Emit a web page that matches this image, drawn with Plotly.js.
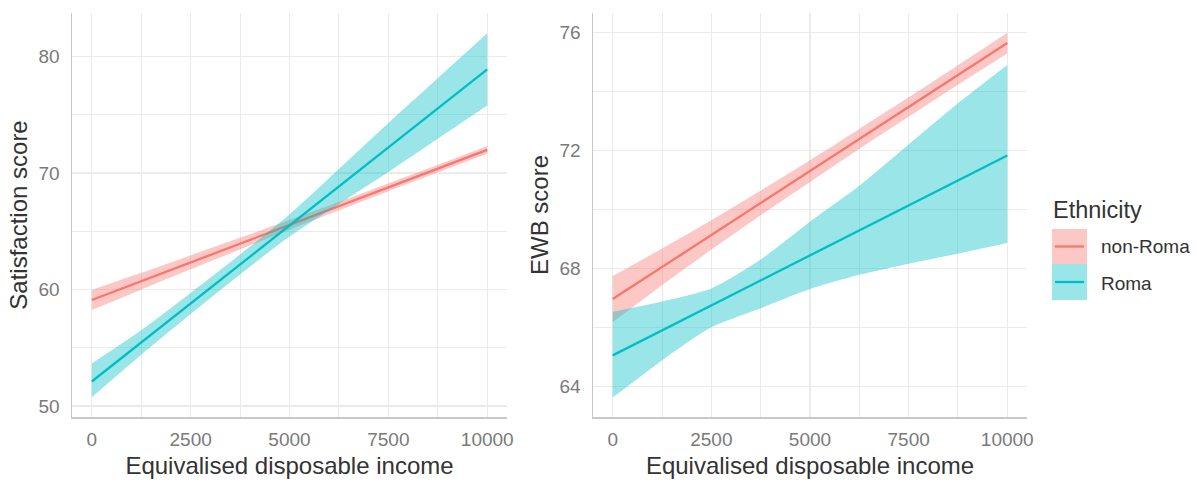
<!DOCTYPE html>
<html>
<head>
<meta charset="utf-8">
<script src="https://cdn.plot.ly/plotly-3.0.1.min.js"></script>
<style>html,body{margin:0;padding:0;background:#fff}#chart{width:1197px;height:482px}</style>
</head>
<body>
<div id="chart"></div>
<script>
// ---- data ----
const income = [0, 1250, 2500, 3750, 5000, 6250, 7500, 8750, 10000];

const groups = ["non-Roma", "Roma"];

// Panel 1: Satisfaction score
const satNonRomaFit = [59.10, 60.71, 62.33, 63.94, 65.55, 67.16, 68.78, 70.39, 72.00];
const satNonRomaHi  = [59.96, 61.43, 62.93, 64.44, 65.97, 67.52, 69.11, 70.71, 72.33];
const satNonRomaLo  = [58.24, 59.99, 61.73, 63.44, 65.13, 66.80, 68.45, 70.07, 71.67];
const satRomaFit    = [52.10, 55.45, 58.80, 62.15, 65.50, 68.85, 72.20, 75.55, 78.90];
const satRomaHi     = [53.65, 56.50, 59.70, 63.00, 66.45, 70.35, 74.30, 78.15, 82.00];
const satRomaLo     = [50.75, 54.40, 57.90, 61.30, 64.55, 67.35, 70.10, 72.95, 75.80];

// Panel 2: EWB score
const ewbNonRomaFit = [66.96, 68.05, 69.13, 70.22, 71.30, 72.39, 73.47, 74.56, 75.64];
const ewbNonRomaHi  = [67.74, 68.67, 69.63, 70.64, 71.67, 72.73, 73.80, 74.89, 75.99];
const ewbNonRomaLo  = [66.18, 67.43, 68.63, 69.80, 70.93, 72.05, 73.14, 74.23, 75.29];
const ewbRomaFit    = [65.05, 65.90, 66.75, 67.59, 68.44, 69.29, 70.13, 70.98, 71.83];
const ewbRomaHi     = [66.53, 66.88, 67.32, 68.30, 69.58, 70.80, 72.20, 73.60, 74.90];
const ewbRomaLo     = [63.62, 64.88, 66.00, 66.65, 67.30, 67.78, 68.16, 68.50, 68.86];

const xTicks = [0, 2500, 5000, 7500, 10000];
const satTicks = [50, 60, 70, 80];
const ewbTicks = [64, 68, 72, 76];

// ---- styling ----
const lineCol = {"non-Roma": "#F8766D", "Roma": "#00BFC4"};
const fillCol = {"non-Roma": "rgba(248,118,109,0.4)", "Roma": "rgba(0,191,196,0.4)"};
const FONT = "Liberation Sans, Arial, sans-serif";
const W = 1197, H = 482;

function band(xa, ya, name, lo, hi, fit) {
  return [
    {x: income, y: lo, xaxis: xa, yaxis: ya, type: "scatter", mode: "lines",
     line: {width: 0, color: fillCol[name], shape: "spline", smoothing: 0.7}, showlegend: false, hoverinfo: "skip"},
    {x: income, y: hi, xaxis: xa, yaxis: ya, type: "scatter", mode: "lines",
     fill: "tonexty", fillcolor: fillCol[name],
     line: {width: 0, color: fillCol[name], shape: "spline", smoothing: 0.7}, showlegend: false, hoverinfo: "skip"},
    {x: income, y: fit, xaxis: xa, yaxis: ya, type: "scatter", mode: "lines", name: name,
     line: {width: 2.3, color: lineCol[name]}, showlegend: false}
  ];
}

const traces = [].concat(
  band("x", "y", groups[0], satNonRomaLo, satNonRomaHi, satNonRomaFit),
  band("x", "y", groups[1], satRomaLo, satRomaHi, satRomaFit),
  band("x2", "y2", groups[0], ewbNonRomaLo, ewbNonRomaHi, ewbNonRomaFit),
  band("x2", "y2", groups[1], ewbRomaLo, ewbRomaHi, ewbRomaFit)
);

const gridCol = "#EBEBEB";
const tickFont = {family: FONT, size: 19, color: "#7a7a7a"};
const titleFont = {family: FONT, size: 24, color: "#333333"};

function xAxis(domain, anchor) {
  return {
    domain: domain, anchor: anchor, range: [-500, 10500],
    tickvals: xTicks, ticktext: xTicks.map(String),
    showgrid: true, gridcolor: gridCol, gridwidth: 1.3,
    minor: {dtick: 1250, tick0: 1250, showgrid: true, gridcolor: gridCol, gridwidth: 1, ticks: ""},
    showline: true, linecolor: "#C8C8C8", linewidth: 1.5,
    ticks: "outside", ticklen: 5, tickcolor: "rgba(0,0,0,0)",
    tickfont: tickFont, zeroline: false,
    title: {text: "Equivalised disposable income", font: titleFont, standoff: 8}
  };
}
function yAxis(domain, anchor, range, ticks, minorTick0, minorD, title) {
  return {
    domain: domain, anchor: anchor, range: range,
    tickvals: ticks, ticktext: ticks.map(String),
    showgrid: true, gridcolor: gridCol, gridwidth: 1.3,
    minor: {tick0: minorTick0, dtick: minorD, showgrid: true, gridcolor: gridCol, gridwidth: 1, ticks: ""},
    showline: true, linecolor: "#C8C8C8", linewidth: 1.5,
    ticks: "outside", ticklen: 7, tickcolor: "rgba(0,0,0,0)",
    tickfont: tickFont, zeroline: false,
    title: {text: title, font: titleFont, standoff: 4}
  };
}

const yDom = [1 - 417 / H, 1 - 13 / H];
const layout = {
  width: W, height: H,
  margin: {l: 0, r: 0, t: 0, b: 0},
  paper_bgcolor: "#ffffff", plot_bgcolor: "#ffffff",
  showlegend: false,
  font: {family: FONT},
  xaxis: xAxis([72 / W, 507 / W], "y"),
  yaxis: yAxis(yDom, "x", [49.05, 83.75], satTicks, 45, 10, "Satisfaction score"),
  xaxis2: xAxis([593 / W, 1027 / W], "y2"),
  yaxis2: yAxis(yDom, "x2", [62.96, 76.66], ewbTicks, 62, 4, "EWB score"),
  shapes: [
    {type: "rect", xref: "paper", yref: "paper", x0: 1052 / W, x1: 1087 / W,
     y0: 1 - 264 / H, y1: 1 - 229 / H, fillcolor: fillCol["non-Roma"], line: {width: 0}},
    {type: "line", xref: "paper", yref: "paper", x0: 1055 / W, x1: 1084 / W,
     y0: 1 - 246.5 / H, y1: 1 - 246.5 / H, line: {color: lineCol["non-Roma"], width: 2.3}},
    {type: "rect", xref: "paper", yref: "paper", x0: 1052 / W, x1: 1087 / W,
     y0: 1 - 300 / H, y1: 1 - 264 / H, fillcolor: fillCol["Roma"], line: {width: 0}},
    {type: "line", xref: "paper", yref: "paper", x0: 1055 / W, x1: 1084 / W,
     y0: 1 - 282 / H, y1: 1 - 282 / H, line: {color: lineCol["Roma"], width: 2.3}}
  ],
  annotations: [
    {text: "Ethnicity", xref: "paper", yref: "paper", x: 1051 / W, y: 1 - 210 / H,
     xanchor: "left", yanchor: "middle", showarrow: false, font: {family: FONT, size: 23.5, color: "#333333"}},
    {text: groups[0], xref: "paper", yref: "paper", x: 1099 / W, y: 1 - 247 / H,
     xanchor: "left", yanchor: "middle", showarrow: false, font: {family: FONT, size: 19, color: "#333333"}},
    {text: groups[1], xref: "paper", yref: "paper", x: 1099 / W, y: 1 - 283 / H,
     xanchor: "left", yanchor: "middle", showarrow: false, font: {family: FONT, size: 19, color: "#333333"}}
  ]
};

Plotly.newPlot("chart", traces, layout, {staticPlot: true, displayModeBar: false});
</script>
</body>
</html>
